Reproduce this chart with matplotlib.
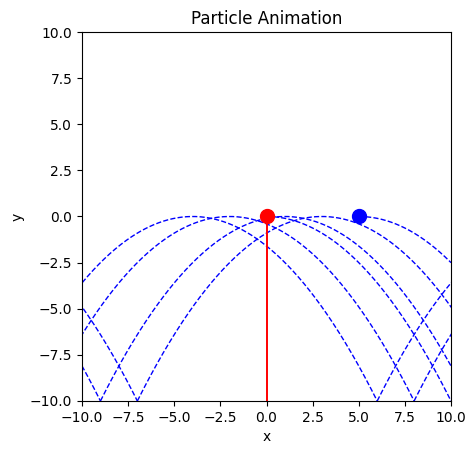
import numpy as np
from matplotlib import pyplot as plt

# parabola apex positions (y = -k * (x - apex)^2)
k = 0.1
wrapped_apex = [-4, -2, 1, 3]      # full trails, wrapping at x = +-10
half_apex = [0, 5]                 # trails drawn only to the right of the apex
particles_x = [0, 5]
particles_y = [0, 0]
particle_colors = ['red', 'blue']
drop_x = [0, 0]
drop_y = [0, -10]

fig = plt.figure(figsize=(4.76, 4.55), dpi=100)
ax = fig.add_axes([82/476, 54/455, 369/476, 369/455])

for a in wrapped_apex:
    xs = np.linspace(a - 10, a + 10, 400)
    ys = -k * (xs - a) ** 2
    for shift in (-20, 0, 20):
        ax.plot(xs + shift, ys, 'b--', lw=1)

for a in half_apex:
    xs = np.linspace(a, 10, 200)
    ax.plot(xs, -k * (xs - a) ** 2, 'b--', lw=1)

ax.plot(drop_x, drop_y, 'r-', lw=1.4)

for px, py, c in zip(particles_x, particles_y, particle_colors):
    ax.plot(px, py, 'o', color=c, markersize=10, zorder=5)

ax.set_xlim(-10, 10)
ax.set_ylim(-10, 10)
ax.set_aspect('equal')
ax.set_xlabel('x')
ax.set_ylabel('y')
ax.set_title('Particle Animation')
fig.savefig('out.png')
